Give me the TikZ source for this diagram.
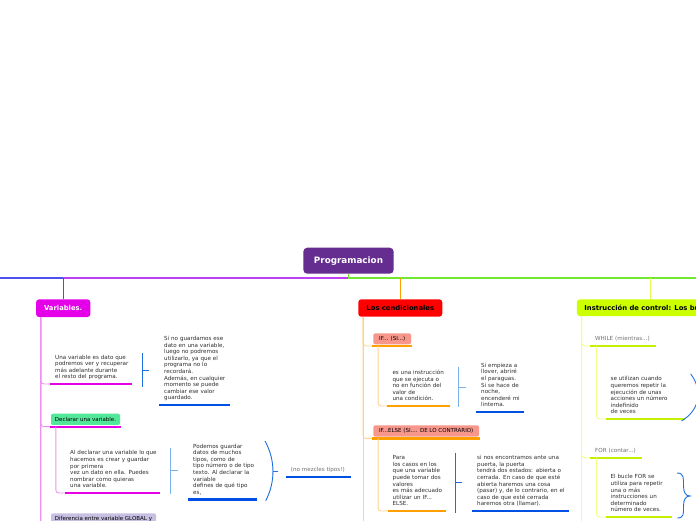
\documentclass[tikz,border=0pt]{standalone}
\usepackage{fontspec}
\setmainfont{DejaVu Sans}
\usetikzlibrary{calc}
\definecolor{rootc}{HTML}{662D91}
\definecolor{mainblue}{HTML}{5050F0}
\definecolor{mainpurple}{HTML}{C040F5}
\definecolor{maingreen}{HTML}{70E830}
\definecolor{varc}{HTML}{E400E8}
\definecolor{varsp}{HTML}{F090F0}
\definecolor{magul}{HTML}{E600E6}
\definecolor{condc}{HTML}{FF0000}
\definecolor{condorg}{HTML}{FFA000}
\definecolor{condsp}{HTML}{FFD28C}
\definecolor{salmon}{HTML}{F7968A}
\definecolor{insc}{HTML}{CCFF00}
\definecolor{insul}{HTML}{C5F000}
\definecolor{inssp}{HTML}{EEFF90}
\definecolor{insconn}{HTML}{DDFF55}
\definecolor{declc}{HTML}{52E89A}
\definecolor{difc}{HTML}{C8BFE3}
\definecolor{blueul}{HTML}{0050E6}
\definecolor{brkdark}{HTML}{1E6FE0}
\definecolor{brklight}{HTML}{7AB2EE}
\definecolor{txtc}{HTML}{2E2E2E}
\definecolor{grayc}{HTML}{707070}
\newcommand\tlines[1]{\noindent\begin{tabular}{@{}l@{}}#1\end{tabular}}
\begin{document}
\begin{tikzpicture}[x=1pt,y=-1pt,
  body/.style={anchor=south west, inner xsep=5pt, inner ysep=3pt, font=\fontsize{5.6}{6.6}\selectfont, text=txtc, align=left},
  note/.style={body, text=grayc},
  topbox/.style={rounded corners=3pt, inner sep=0pt, font=\fontsize{6.8}{8}\selectfont\bfseries},
  subbox/.style={rounded corners=2pt, inner sep=0pt, font=\fontsize{5.5}{6.6}\selectfont, text=black},
  uline/.style={line width=2.2pt},
  spine/.style={line width=0.9pt, rounded corners=3pt},
  brk/.style={line width=0.9pt},
  mainln/.style={line width=1.4pt},
]
\useasboundingbox (0,0) rectangle (696,520);
\clip (0,0) rectangle (696,520);
\fill[white] (0,0) rectangle (696,520);

% ---------- root and main line
\node[topbox, fill=rootc, text=white, minimum width=90.4pt, minimum height=26pt, rounded corners=4pt, font=\fontsize{8.8}{10}\selectfont\bfseries] (root) at (348.5,260.7) {Programacion};
\coordinate (m0) at (0,277.8);
\coordinate (mv) at (63.3,277.8);
\coordinate (mr) at (348.5,277.8);
\coordinate (me) at (696,277.8);
\coordinate (insx) at (650.7,277.8);
\coordinate (bot) at (0,530);

\node[topbox, fill=varc, text=white, minimum width=54.3pt, minimum height=17.7pt] (var) at (63.2,308.2) {Variables.};
\node[topbox, fill=condc, text=black, minimum width=84pt, minimum height=17.4pt] (cond) at (400.3,308) {Los condicionales};
\node[topbox, fill=insc, text=black, anchor=west, minimum height=16.7pt, inner xsep=7.5pt] (ins) at (576.7,307.7) {Instrucción de control: Los bucles};

\draw[mainln, mainblue] (m0) -- (mv);
\draw[mainln, mainpurple] (mv) -- (mr);
\draw[mainln, maingreen] (root.south) -- (mr) -- (me);
\draw[line width=1.2pt, varc] (var.north) -- (var.north |- mv);
\draw[line width=1.2pt, condorg] (cond.north) -- (cond.north |- mr);
\draw[line width=1.2pt, insconn] (insx |- ins.north) -- (insx);

% ---------- Variables subtree
\coordinate (vs) at ($(var.south west)+(5,0)$);
\draw[spine, varsp] (vs) -- (vs |- bot);

\node[body, text width=72pt] (t1) at (50,384) {\tlines{Una variable es dato que\\podremos ver y recuperar\\más adelante durante\\el resto del programa.}};
\draw[spine, varsp] (vs) |- (t1.south west);
\draw[uline, magul] (t1.south west) -- (t1.south east);

\coordinate (b1t) at (142.3,353.3);
\coordinate (b1b) at (142.3,386.7);
\coordinate (b1m) at (142.3,370);
\coordinate (b1e) at (149.3,370);
\draw[brk, brkdark] (b1t) -- (b1b) (b1m) -- (b1e);

\node[body, text width=61pt] (t2) at (159,405) {\tlines{Si no guardamos ese\\dato en una variable,\\luego no podremos\\utilizarlo, ya que el\\programa no lo\\recordará.\\Además, en cualquier\\momento se puede\\cambiar ese valor\\guardado.}};
\draw[uline, blueul] (t2.south west) -- (t2.south east);

\node[subbox, fill=declc, minimum width=69pt, minimum height=11.3pt] (decl) at (85.5,419.3) {Declarar una variable.};
\coordinate (declul) at ($(decl.south west)+(-1,1.5)$);
\coordinate (declur) at ($(decl.south east)+(1,1.5)$);
\draw[spine, varsp] (vs) |- (declul);
\draw[uline, magul] (declul) -- (declur);

\coordinate (ds) at ($(decl.south west)+(5,1.5)$);
\node[body, text width=85pt] (t3) at (65,493) {\tlines{Al declarar una variable lo que\\hacemos es crear y guardar\\por primera\\vez un dato en ella. Puedes\\nombrar como quieras\\una variable.}};
\draw[spine, varsp] (ds) |- (t3.south west);
\draw[uline, magul] (t3.south west) -- (t3.south east);

\coordinate (b2t) at (170.7,448);
\coordinate (b2b) at (170.7,494);
\coordinate (b2m) at (170.7,470.7);
\coordinate (b2e) at (177.7,470.7);
\draw[brk, brklight] (b2t) -- (b2b) (b2m) -- (b2e);

\node[body, text width=59pt] (t4) at (188,499.5) {\tlines{Podemos guardar\\datos de muchos\\tipos, como de\\tipo número o de tipo\\texto. Al declarar la\\variable\\defines de qué tipo\\es,}};
\draw[uline, blueul] (t4.south west) -- (t4.south east);

\coordinate (c1t) at (265,441);
\coordinate (c1b) at (265.7,500.7);
\coordinate (c1m) at (272.8,471);
\coordinate (c1e) at (278.3,471);
\draw[brk, brkdark] (c1t) .. controls (275.5,460) and (275.5,482) .. (c1b);
\draw[brk, brkdark] (c1m) -- (c1e);

\node[note, text width=55.3pt] (t5) at (285.7,476.7) {\tlines{(no mezcles tipos!)}};
\draw[uline, blueul] (t5.south west) -- (t5.south east);

\node[subbox, fill=difc, minimum width=105pt, minimum height=12pt] (dif) at (103.5,519.3) {Diferencia entre variable GLOBAL y};
\coordinate (diful) at ($(dif.south west)+(-1,1.5)$);
\draw[spine, varsp] (vs) |- (diful);

% ---------- Condicionales subtree
\coordinate (cs) at ($(cond.south west)+(5,0)$);
\draw[spine, condsp] (cs) -- (cs |- bot);

\node[subbox, fill=salmon, minimum width=37.7pt, minimum height=11pt] (ifb) at (392.2,338.8) {IF... (SI...)};
\coordinate (iful) at ($(ifb.south west)+(-1,1.5)$);
\coordinate (ifur) at ($(ifb.south east)+(1,1.5)$);
\draw[spine, condsp] (cs) |- (iful);
\draw[uline, condorg] (iful) -- (ifur);

\coordinate (ifs) at ($(ifb.south west)+(5,1.5)$);
\node[body, text width=52pt] (t6) at (387.3,406) {\tlines{es una instrucción\\que se ejecuta o\\no en función del\\valor de\\una condición.}};
\draw[spine, condsp] (ifs) |- (t6.south west);
\draw[uline, condorg] (t6.south west) -- (t6.south east);

\coordinate (b3t) at (458.7,367);
\coordinate (b3b) at (458.7,407);
\coordinate (b3m) at (458.7,387);
\coordinate (b3e) at (466,387);
\draw[brk, brklight] (b3t) -- (b3b) (b3m) -- (b3e);

\node[body, text width=38pt] (t7) at (476,412) {\tlines{Si empieza a\\llover, abriré\\el paraguas.\\Si se hace de\\noche,\\encenderé mi\\linterna.}};
\draw[uline, blueul] (t7.south west) -- (t7.south east);

\node[subbox, fill=salmon, minimum width=105.7pt, minimum height=11.4pt] (ife) at (426.2,431) {IF...ELSE (SI.... DE LO CONTRARIO)};
\coordinate (ifeul) at ($(ife.south west)+(-1,1.5)$);
\coordinate (ifeur) at ($(ife.south east)+(1,1.5)$);
\draw[spine, condsp] (cs) |- (ifeul);
\draw[uline, condorg] (ifeul) -- (ifeur);

\coordinate (ifes) at ($(ife.south west)+(5,1.5)$);
\node[body, text width=48pt] (t8) at (387.5,511) {\tlines{Para\\los casos en los\\que una variable\\puede tomar dos\\valores\\es más adecuado\\utilizar un IF...\\ELSE.}};
\draw[spine, condsp] (ifes) |- (t8.south west);
\draw[uline, condorg] (t8.south west) -- (t8.south east);

\coordinate (b4t) at (455.3,452.7);
\coordinate (b4b) at (455.3,512.7);
\coordinate (b4m) at (455.3,482.3);
\coordinate (b4e) at (462,482.3);
\draw[brk, brkdark] (b4t) -- (b4b) (b4m) -- (b4e);

\node[body, text width=87pt] (t9) at (472,511) {\tlines{si nos encontramos ante una\\puerta, la puerta\\tendrá dos estados: abierta o\\cerrada. En caso de que esté\\abierta haremos una cosa\\(pasar) y, de lo contrario, en el\\caso de que esté cerrada\\haremos otra (llamar).}};
\draw[uline, blueul] (t9.south west) -- (t9.south east);

% ---------- Instruccion de control subtree
\coordinate (is) at ($(ins.south west)+(5,0)$);
\draw[spine, inssp] (is) -- (is |- bot);

\node[note, text width=56pt] (wh) at (590,346) {\tlines{WHILE (mientras...)}};
\draw[spine, inssp] (is) |- (wh.south west);
\draw[uline, insul] (wh.south west) -- (wh.south east);

\coordinate (whs) at ($(wh.south west)+(6.5,0)$);
\node[body, text width=69pt] (t10) at (605.5,419) {\tlines{se utilizan cuando\\queremos repetir la\\ejecución de unas\\acciones un número\\indefinido\\de veces}};
\draw[spine, inssp] (whs) |- (t10.south west);
\draw[uline, insul] (t10.south west) -- (t10.south east);

\coordinate (c2t) at (690.7,374);
\coordinate (c2b) at (681.5,421);
\draw[brk, brkdark] (c2t) .. controls (703,390) and (700,410) .. (c2b);

\node[note, text width=42pt] (fo) at (590,457.7) {\tlines{FOR (contar...)}};
\draw[spine, inssp] (is) |- (fo.south west);
\draw[uline, insul] (fo.south west) -- (fo.south east);

\coordinate (fos) at ($(fo.south west)+(6.5,0)$);
\node[body, text width=56pt] (t11) at (605.5,517) {\tlines{El bucle FOR se\\utiliza para repetir\\una o más\\instrucciones un\\determinado\\número de veces.}};
\draw[spine, inssp] (fos) |- (t11.south west);
\draw[uline, insul] (t11.south west) -- (t11.south east);

\coordinate (brt) at (677,473);
\coordinate (brp) at (690,496);
\coordinate (brb) at (677.3,518);
\draw[brk, brkdark] (brt) .. controls (684,473) and (683.5,478) .. (683.5,486)
  .. controls (683.5,493) and (686,496) .. (brp)
  .. controls (686,496) and (683.5,499) .. (683.5,506)
  .. controls (683.5,514) and (684,518) .. (brb);
\end{tikzpicture}
\end{document}
